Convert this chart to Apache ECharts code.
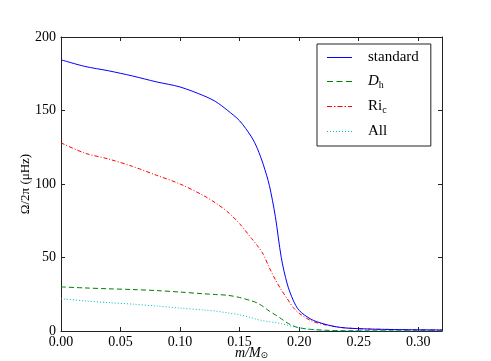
<!DOCTYPE html>
<html>
<head>
<meta charset="utf-8">
<script src="https://cdn.jsdelivr.net/npm/echarts@6/dist/echarts.min.js"></script>
<style>
  html, body { margin: 0; padding: 0; background: #fff; }
  #chart { width: 491px; height: 361px; }
</style>
</head>
<body>
<div id="chart"></div>
<script>
// m / M_sun sample points, shared by all curves
const mass = [0, 0.02, 0.04, 0.06, 0.08, 0.10, 0.12, 0.13, 0.14, 0.15, 0.16, 0.165, 0.17, 0.175,
  0.18, 0.185, 0.19, 0.195, 0.20, 0.21, 0.22, 0.23, 0.24, 0.26, 0.28, 0.30, 0.32]

const standard = [184.5, 180, 177, 173.5, 169.5, 166, 160, 156, 150, 143, 132, 124, 113, 99,
  78, 50, 32, 21, 14, 8, 5, 3, 2, 1.3, 1, 0.8, 0.7]
const dh = [30, 29.3, 28.7, 28.2, 27.5, 26.5, 25.3, 24.8, 24.3, 22.8, 20.5, 19, 16.5, 13.5,
  11, 8.3, 5.5, 3.5, 2.2, 1.1, 0.6, 0.3, 0.2, 0.1, 0.1, 0.1, 0.1]
const ric = [128, 121, 117, 112, 106, 100, 92, 87, 81, 73, 63, 58, 52, 43,
  35, 28, 22, 16, 12, 7, 4.5, 3, 2, 1.3, 1, 0.8, 0.7]
const all = [22, 20.5, 19.3, 18.3, 17, 15.6, 14.3, 13.5, 12.3, 11, 9, 7.8, 7, 6.3,
  5.8, 5, 4, 3, 2, 1, 0.5, 0.3, 0.2, 0.1, 0.1, 0.1, 0.1]

const xTicks = [0, 0.05, 0.10, 0.15, 0.20, 0.25, 0.30]
const yTicks = [0, 50, 100, 150, 200]

const font = '"Liberation Serif", "DejaVu Serif", serif'
const pairs = (ys) => mass.map((m, i) => [m, ys[i]])

// line styles for the curves
const styles = {
  standard: { color: '#0000ff', width: 1, type: 'solid' },
  Dh: { color: '#008000', width: 1, type: [5, 3] },
  Ric: { color: '#ff0000', width: 1, type: [4, 2, 1, 2] },
  All: { color: '#00bfbf', width: 1, type: [1, 2] }
}
// legend samples drawn as small filled dash shapes (25 x 1)
const legendIcons = {
  standard: 'path://M0,0h25v1h-25z',
  Dh: 'path://M0,0h6v1h-6zM9.5,0h6v1h-6zM19,0h6v1h-6z',
  Ric: 'path://M0,0h5v1h-5zM7,0h1.5v1h-1.5zM10.5,0h5v1h-5zM17.5,0h1.5v1h-1.5zM21,0h4v1h-4z',
  All: 'path://M0,0h1v1h-1zM3,0h1v1h-1zM6,0h1v1h-1zM9,0h1v1h-1zM12,0h1v1h-1zM15,0h1v1h-1zM18,0h1v1h-1zM21,0h1v1h-1zM24,0h1v1h-1z'
}

const frame = { show: true, onZero: false, lineStyle: { color: '#222', width: 1 } }
const tick = { inside: true, length: 4, lineStyle: { color: '#222' } }

const line = (name, ys) => ({
  name, type: 'line', data: pairs(ys), symbol: 'none', smooth: 0.3,
  lineStyle: styles[name], itemStyle: { color: styles[name].color }
})

const myChart = echarts.init(document.getElementById('chart'))
myChart.setOption({
  animation: false,
  textStyle: { fontFamily: font },
  grid: { left: 61, top: 37, right: 49, bottom: 30, outerBoundsMode: 'none', containLabel: false },
  xAxis: [{
    type: 'value', min: 0, max: 0.32, interval: 0.05,
    axisLine: frame, axisTick: tick, splitLine: { show: false },
    axisLabel: { color: '#000', fontSize: 14, fontFamily: font, margin: 4, showMaxLabel: false,
      formatter: (v) => xTicks.includes(+v.toFixed(2)) ? v.toFixed(2) : '' },
    name: '{i|m/M}{s|⊙}', nameLocation: 'middle', nameGap: 15, nameMoveOverlap: false,
    nameTextStyle: {
      rich: {
        i: { fontSize: 14, fontStyle: 'italic', fontFamily: font, color: '#000' },
        s: { fontSize: 9, fontFamily: '"DejaVu Sans", sans-serif', color: '#000', padding: [5, 0, 0, 0] }
      }
    }
  }, {
    type: 'value', position: 'top', min: 0, max: 0.32, interval: 0.05,
    axisLine: frame, axisTick: tick, axisLabel: { show: false }, splitLine: { show: false }
  }],
  yAxis: [{
    type: 'value', min: 0, max: 200, interval: 50,
    axisLine: frame, axisTick: tick, splitLine: { show: false },
    axisLabel: { color: '#000', fontSize: 14, fontFamily: font, margin: 5,
      formatter: (v) => yTicks.includes(v) ? String(v) : '' },
    name: 'Ω/2π (μHz)', nameLocation: 'middle', nameRotate: 90, nameGap: 29, nameMoveOverlap: false,
    nameTextStyle: { fontSize: 13, fontFamily: font, color: '#000' }
  }, {
    type: 'value', position: 'right', min: 0, max: 200, interval: 50,
    axisLine: frame, axisTick: tick, axisLabel: { show: false }, splitLine: { show: false }
  }],
  legend: {
    orient: 'vertical', left: 317, top: 44,
    padding: [6, 12, 7, 10], itemGap: 9, itemWidth: 25, itemHeight: 14,
    symbolKeepAspect: true,
    borderColor: '#222', borderWidth: 1, borderRadius: 0, backgroundColor: '#fff',
    data: Object.keys(styles).map((name) => ({
      name,
      icon: legendIcons[name],
      itemStyle: { color: styles[name].color, borderWidth: 0, opacity: 1 }
    })),
    textStyle: { fontSize: 14, fontFamily: font, color: '#000', padding: [0, 0, 0, 11], width: 60,
      rich: {
        n: { fontSize: 15, fontFamily: font, color: '#000' },
        it: { fontSize: 15, fontStyle: 'italic', fontFamily: font, color: '#000' },
        sub: { fontSize: 10, fontFamily: font, color: '#000', padding: [7, 0, 0, 0] }
      }
    },
    formatter: (name) => ({
      standard: '{n|standard}',
      Dh: '{it|D}{sub|h}',
      Ric: '{n|Ri}{sub|c}',
      All: '{n|All}'
    })[name]
  },
  series: [
    { ...line('standard', standard), z: 5 },
    line('Dh', dh),
    line('Ric', ric),
    line('All', all)
  ]
})
</script>
</body>
</html>
